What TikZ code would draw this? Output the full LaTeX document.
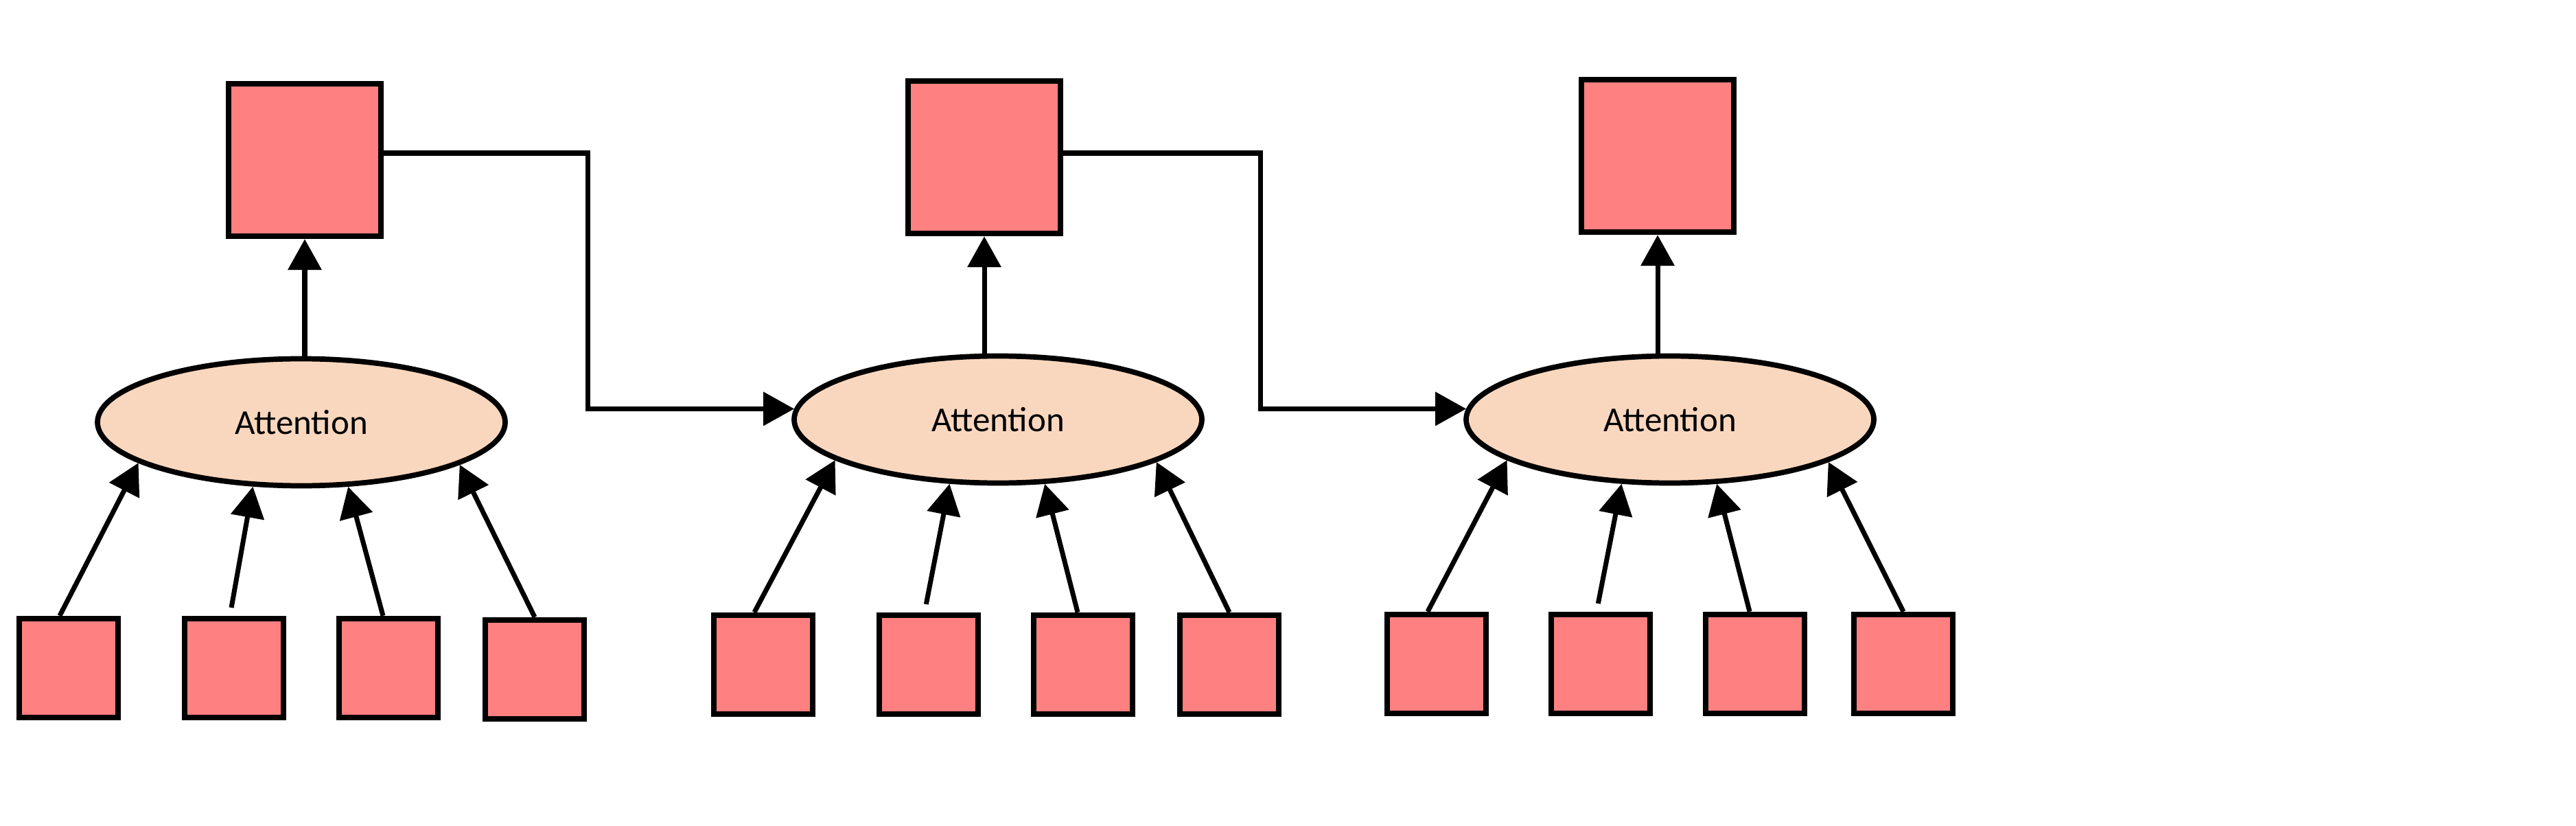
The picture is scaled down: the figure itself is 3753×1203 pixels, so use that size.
\documentclass[tikz,border=0pt]{standalone}
\usepackage{fontspec}
\setmainfont{Carlito}
\usetikzlibrary{shapes.geometric,arrows.meta}
\definecolor{boxred}{RGB}{255,128,128}
\definecolor{attpeach}{RGB}{249,215,190}

\tikzset{
  topbox/.style={draw, line width=2.4pt, fill=boxred, minimum width=22.2mm, minimum height=22.2mm, inner sep=0pt},
  inbox/.style={draw, line width=2.4pt, fill=boxred, minimum width=14.4mm, minimum height=14.4mm, inner sep=0pt},
  attn/.style={ellipse, draw, line width=2.2pt, fill=attpeach, minimum width=59.4mm, minimum height=18.5mm, inner sep=0pt, font=\fontsize{14.5}{16}\selectfont},
  link/.style={line width=2pt, ->, >={Triangle[length=4.5mm,width=4.8mm]}}
}

\begin{document}
\begin{tikzpicture}[x=0.1mm, y=-0.1mm]
  \useasboundingbox (0,0) rectangle (3753,1203);

  % Attention blocks
  \node[attn] (att1) at (439,615) {Attention};
  \node[attn] (att2) at (1454,611) {Attention};
  \node[attn] (att3) at (2433,611) {Attention};

  % Outputs
  \node[topbox] (top1) at (444,233) {};
  \node[topbox] (top2) at (1434,229) {};
  \node[topbox] (top3) at (2415,227) {};

  % Inputs
  \node[inbox] (in11) at (100,973) {};
  \node[inbox] (in12) at (341,973) {};
  \node[inbox] (in13) at (566,973) {};
  \node[inbox] (in14) at (779,975) {};

  \node[inbox] (in21) at (1112,968) {};
  \node[inbox] (in22) at (1353,968) {};
  \node[inbox] (in23) at (1578,968) {};
  \node[inbox] (in24) at (1791,968) {};

  \node[inbox] (in31) at (2093,967) {};
  \node[inbox] (in32) at (2332,967) {};
  \node[inbox] (in33) at (2557,967) {};
  \node[inbox] (in34) at (2773,967) {};

  % Inputs into attention
  \foreach \g in {1,2,3} {
    \draw[link] ([xshift=-1.3mm]in\g1.north) -- (att\g.194);
    \draw[link, shorten <=1.2mm] ([xshift=-0.6mm]in\g2.north) -- (att\g.233);
    \draw[link] ([xshift=-0.8mm]in\g3.north) -- (att\g.306);
    \draw[link] (in\g4.north) -- (att\g.345);
    \draw[link] (att\g.north -| top\g.south) -- (top\g.south);
  }

  % Carry output to next block
  \draw[link] ([yshift=1mm]top1.east) -- ++(297,0) |- (att2.177);
  \draw[link] ([xshift=-0.7mm,yshift=0.6mm]top2.east) -- ++(294,0) |- (att3.177);
\end{tikzpicture}
\end{document}
